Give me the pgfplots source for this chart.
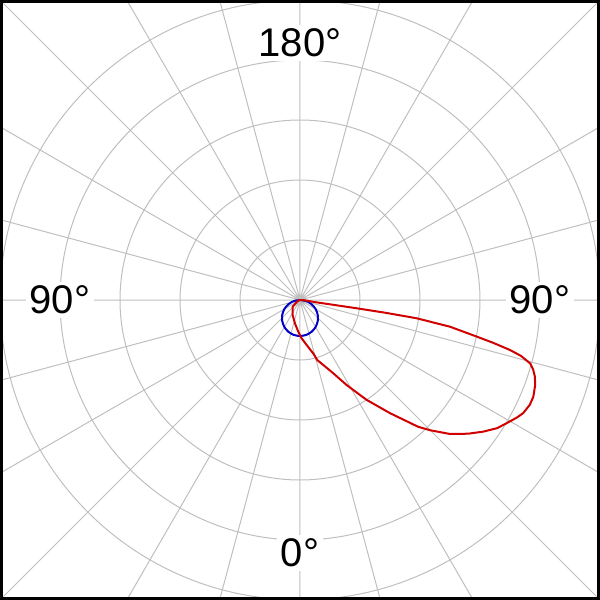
\documentclass[border=0pt]{standalone}
\usepackage{fontspec}
\setmainfont{Liberation Sans}
\usepackage{pgfplots}
\usepackage{pgfplotstable}
\usepgfplotslibrary{polar}
\pgfplotsset{compat=1.18}
\definecolor{lobered}{RGB}{208,0,0}
\definecolor{lobeblue}{RGB}{0,0,200}

% angle measured from nadir (0 deg = down), positive to the right; r in ring units
\pgfplotstableread{
a r
-90 0
-70 0.03
-59.5 0.06
-47.5 0.165
-36 0.21
-26 0.28
-12 0.40
-3 0.53
2.5 0.64
8.5 0.76
14 0.92
16 1.04
20 1.16
24.4 1.34
28.8 1.62
33.7 2.00
38.5 2.41
43.0 2.89
45.0 3.07
48.2 3.35
51.5 3.58
54.3 3.76
57 3.92
59.2 4.01
61.5 4.11
63.1 4.17
65.5 4.21
67.5 4.21
70 4.17
71.9 4.12
73.5 4.05
74.6 3.98
75.8 3.80
76.6 3.60
77.5 3.30
78.3 3.01
79.9 2.54
81.1 1.97
81.5 1.45
81.7 0.96
81.8 0.50
82 0.25
86 0.08
90 0
}\redtbl

\pgfplotstableread{
a r
-90 0
-80 0.104
-70 0.205
-60 0.300
-50 0.386
-40 0.460
-30 0.520
-20 0.564
-10 0.591
0 0.600
10 0.591
20 0.564
30 0.520
40 0.460
50 0.386
60 0.300
70 0.205
80 0.104
90 0
}\bluetbl

\begin{document}
\begin{tikzpicture}
\begin{scope}
\clip (-150pt,-150pt) rectangle (150pt,150pt);
\begin{polaraxis}[
  at={(0pt,0pt)}, anchor=center,
  scale only axis, width=424.26pt, height=424.26pt,
  ymin=0, ymax=7.0711,
  xtick={0,15,...,345}, ytick={1,2,3,4,5},
  xticklabels={}, yticklabels={},
  major tick length=0pt,
  grid=major,
  major grid style={draw=black!25, line width=0.5pt},
  axis line style={draw=none},
]
\addplot[no markers, color=lobeblue, line width=1pt, smooth] table[x expr=\thisrow{a}+270, y=r] {\bluetbl};
\addplot[no markers, color=lobered, line width=1pt] table[x expr=\thisrow{a}+270, y=r] {\redtbl};
\node[fill=white, inner sep=2pt, font=\fontsize{20}{24}\selectfont] at (axis cs:90,4.28) {180°};
\node[fill=white, inner sep=2pt, font=\fontsize{20}{24}\selectfont] at (axis cs:270,4.22) {0°};
\node[fill=white, inner sep=2pt, font=\fontsize{20}{24}\selectfont] at (axis cs:180,4.0) {90°};
\node[fill=white, inner sep=2pt, font=\fontsize{20}{24}\selectfont] at (axis cs:0,4.0) {90°};
\end{polaraxis}
\end{scope}
\draw[line width=1.3pt] (-149.35pt,-149.35pt) rectangle (149.35pt,149.35pt);
\pgfresetboundingbox
\useasboundingbox (-150pt,-150pt) rectangle (150pt,150pt);
\end{tikzpicture}
\end{document}
